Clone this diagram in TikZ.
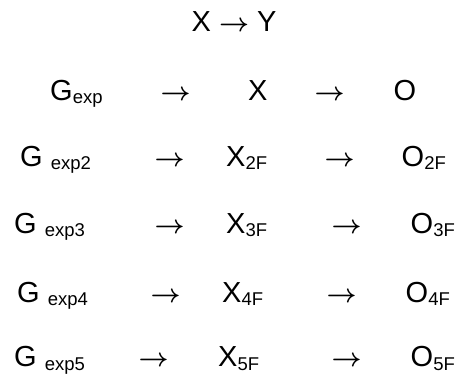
\documentclass[tikz,border=0pt]{standalone}
\usepackage{fontspec}
\usepackage{graphicx}
\setmainfont{Liberation Sans}
\newcommand{\lowtxt}[1]{\raisebox{-3.5pt}{\fontsize{18.5}{19}\selectfont #1}}
\newcommand{\rarrow}{\resizebox{30pt}{!}{\boldmath$\rightarrow$}}
\begin{document}
\begin{tikzpicture}[x=1pt,y=1pt,
    every node/.style={inner sep=0pt,anchor=base west,font=\fontsize{29}{30}\selectfont}]
\useasboundingbox (0,0) rectangle (456,-376);
\node (T) at (191.5,-31.5) {X \rarrow{} Y};
% row 1
\node (G1) at (50,-100) {G\lowtxt{exp}};
\node (A1) at (160.5,-100) {\rarrow};
\node (X1) at (248,-100) {X};
\node (B1) at (314.5,-100) {\rarrow};
\node (O1) at (393.5,-100) {O};
% row 2
\node (G2) at (20,-166) {G \lowtxt{exp2}};
\node (A2) at (154.5,-166) {\rarrow};
\node (X2) at (226,-166) {X\lowtxt{2F}};
\node (B2) at (324.5,-166) {\rarrow};
\node (O2) at (401.5,-166) {O\lowtxt{2F}};
% row 3
\node (G3) at (14,-233) {G \lowtxt{exp3}};
\node (A3) at (154.5,-233) {\rarrow};
\node (X3) at (226,-233) {X\lowtxt{3F}};
\node (B3) at (331.5,-233) {\rarrow};
\node (O3) at (410.5,-233) {O\lowtxt{3F}};
% row 4
\node (G4) at (17,-302) {G \lowtxt{exp4}};
\node (A4) at (150.5,-302) {\rarrow};
\node (X4) at (222,-302) {X\lowtxt{4F}};
\node (B4) at (326.5,-302) {\rarrow};
\node (O4) at (405.5,-302) {O\lowtxt{4F}};
% row 5
\node (G5) at (14,-366.5) {G \lowtxt{exp5}};
\node (A5) at (138.5,-366.5) {\rarrow};
\node (X5) at (218,-366.5) {X\lowtxt{5F}};
\node (B5) at (331.5,-366.5) {\rarrow};
\node (O5) at (410.5,-366.5) {O\lowtxt{5F}};
\end{tikzpicture}
\end{document}
